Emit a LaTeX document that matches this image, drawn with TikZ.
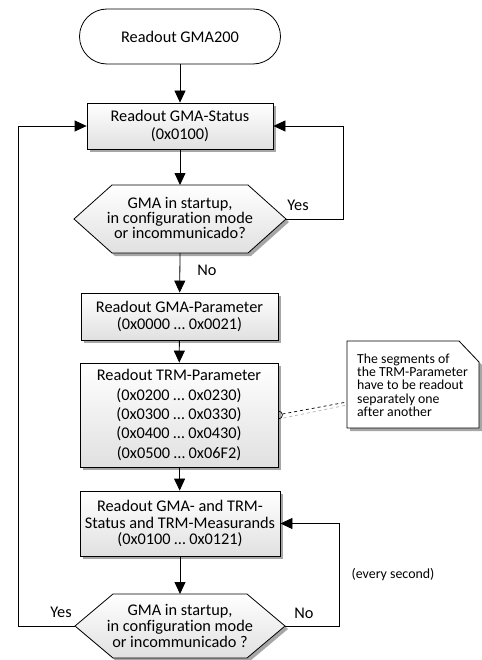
\documentclass[tikz,border=0pt]{standalone}
\usepackage{fontspec}
\setmainfont{Carlito}[Ligatures={NoCommon}]
\usetikzlibrary{arrows.meta,calc}
\newcommand\fsmain[1]{\fontsize{16.3bp}{#1bp}\selectfont}
\begin{document}
\begin{tikzpicture}[x=1bp,y=-1bp,
  ln/.style={line width=0.8bp, draw=black},
  arr/.style={ln, -{Triangle[length=12bp,width=11bp]}},
  shadowpre/.style={preaction={fill=black!35, transform canvas={shift={(3bp,-3bp)}}}},
  procbox/.style={draw, line width=0.8bp, top color=white, bottom color=black!12,
     shadowpre, align=center, inner sep=0pt},
  hexpath/.style={draw, line width=0.8bp, top color=white, bottom color=black!12, shadowpre},
  terminal/.style={draw, line width=0.8bp, fill=white, rounded corners=27.5bp,
     minimum width=201bp, minimum height=55bp, inner sep=0pt, font=\fsmain{19}},
  lbl/.style={inner sep=0pt, font=\fsmain{19}},
  smalllbl/.style={inner sep=0pt, font=\fontsize{13.9bp}{14bp}\selectfont},
  notepath/.style={draw, line width=0.8bp, fill=white, shadowpre}
]
\useasboundingbox (0,0) rectangle (482,660);

% start
\node[terminal] (start) at (180,36.5) {Readout GMA200};

% box 1
\node[procbox, minimum width=186bp, minimum height=46bp, font=\fsmain{18}] (b1) at (180,126)
  {Readout GMA-Status\\(0x0100)};

% hexagon 1
\path[hexpath] (74,219) -- (112,185) -- (248,185) -- (286,219) -- (248,253) -- (112,253) -- cycle;
\coordinate (h1n) at (180,185);
\coordinate (h1s) at (180,253);
\coordinate (h1e) at (286,219);
\node[align=center, inner sep=0pt, font=\fsmain{15}] (h1) at (180,218)
  {GMA in startup,\\in configuration mode\\or incommunicado?};

% box 2
\node[procbox, minimum width=197bp, minimum height=47bp, font=\fsmain{17.7}] (b2) at (179.5,316.5)
  {Readout GMA-Parameter\\(0x0000 … 0x0021)};

% box 3
\node[procbox, minimum width=198bp, minimum height=104bp, font=\fsmain{19.3}] (b3) at (179,415)
  {Readout TRM-Parameter\\(0x0200 … 0x0230)\\(0x0300 … 0x0330)\\(0x0400 … 0x0430)\\(0x0500 … 0x06F2)};

% box 4
\node[procbox, minimum width=200bp, minimum height=65bp, font=\fsmain{16.7}] (b4) at (180,523.5)
  {Readout GMA- and TRM-\\Status and TRM-Measurands\\(0x0100 … 0x0121)};

% hexagon 2
\path[hexpath] (75,626) -- (113,594) -- (247,594) -- (285,626) -- (247,658) -- (113,658) -- cycle;
\coordinate (h2n) at (180,594);
\coordinate (h2e) at (285,626);
\coordinate (h2w) at (75,626);
\node[align=center, inner sep=0pt, font=\fsmain{16.2}] (h2) at (180,626)
  {GMA in startup,\\in configuration mode\\or incommunicado ?};

% note
\path[notepath] (347,341) -- (459,341) -- (479,362) -- (479,428) -- (347,428) -- cycle;
\coordinate (notew) at (347,402);
\node[anchor=west, align=left, inner sep=0pt, font=\fontsize{13.8bp}{13.3bp}\selectfont] (note) at (357,385)
  {The segments of\\the TRM-Parameter\\have to be readout\\separately one\\after another};

% callout
\coordinate (cst) at ($(b3.east)+(4,-1)$);
\draw[black!30, line width=0.7bp, dashed] ($(cst)+(1,4)$) -- ($(notew)+(0,3)$);
\draw[line width=0.7bp, dashed] (cst) -- (notew);
\draw[line width=0.7bp] ($(b3.east)+(0,-4)$) arc[start angle=-90, end angle=90, radius=4];

% connectors
\draw[arr] (start) -- (b1);
\draw[arr] (b1) -- (h1n);
\draw[arr] (h1s) -- (b2);
\draw[arr] (b2) -- (b3);
\draw[arr] (b3) -- (b4);
\draw[arr] (b4) -- (h2n);
\draw[arr] (h1e) -- ++(57,0) |- (b1.east);
\draw[arr] (h2e) -- ++(54,0) |- (b4.east);
\draw[arr] (h2w) -- ++(-57,0) |- (b1.west);

% labels
\node[lbl] (yes1) at (298,205) {Yes};
\node[lbl] (no1) at (207,270) {No};
\node[lbl] (no2) at (304,613) {No};
\node[lbl] (yes2) at (61,612) {Yes};
\node[smalllbl] (every) at (393,575) {(every second)};
\end{tikzpicture}
\end{document}
